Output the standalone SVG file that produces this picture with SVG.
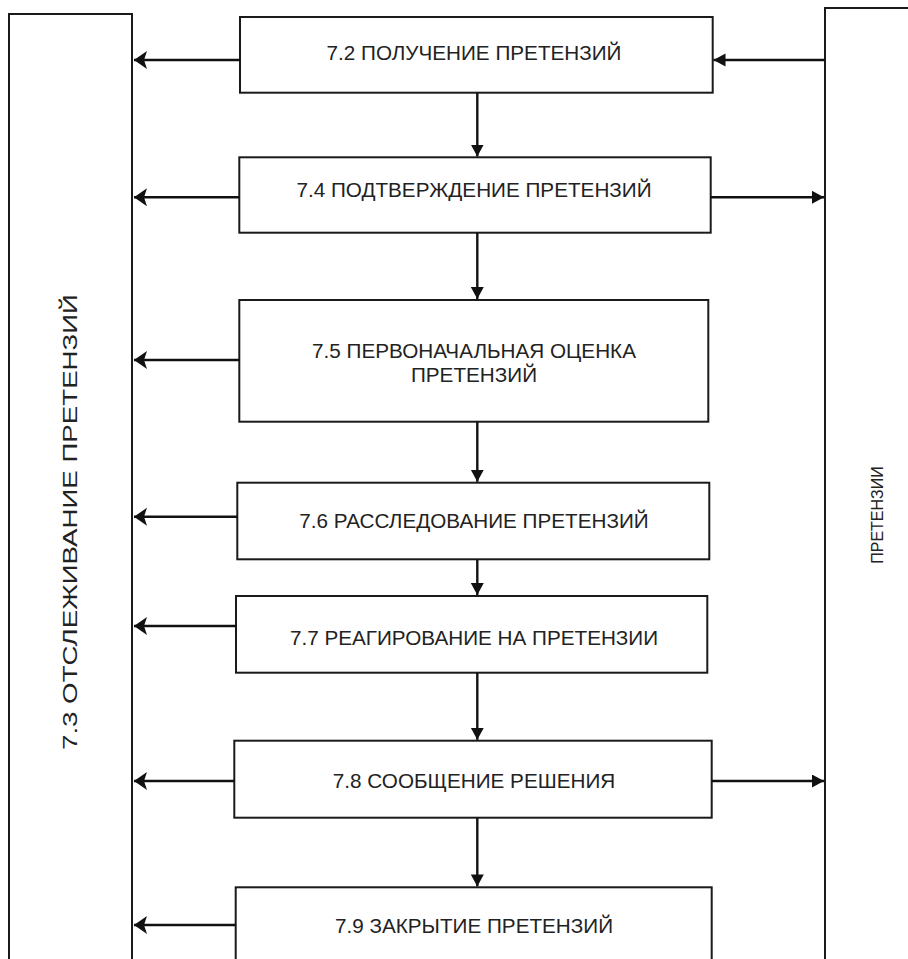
<svg xmlns="http://www.w3.org/2000/svg" width="908" height="959" viewBox="0 0 908 959">
<style>
.box{fill:#fff;stroke:#1a1a1a;stroke-width:2}
.lbl{font-family:"Liberation Sans",Arial,sans-serif;font-size:20.7px;fill:#222;text-anchor:middle}
.side{font-family:"Liberation Sans",Arial,sans-serif;font-size:21px;fill:#222;text-anchor:middle}
.con{stroke:#111;stroke-width:2.4;fill:none;marker-end:url(#ah)}
.conL{stroke:#111;stroke-width:2.4;fill:none;marker-end:url(#ahL)}
</style>
<defs>
<marker id="ah" markerUnits="userSpaceOnUse" markerWidth="14" markerHeight="14" refX="12" refY="6.5" orient="auto">
<path d="M0,0 L12,6.5 L0,13 z" fill="#111"/>
</marker>
<marker id="ahL" markerUnits="userSpaceOnUse" markerWidth="16" markerHeight="20" refX="13" refY="9" orient="auto">
<path d="M0,0 L13,9 L0,18 L3,9 z" fill="#111"/>
</marker>
</defs>
<rect width="908" height="959" fill="#fff"/>
<g id="tracking">
<rect class="box" x="9" y="14" width="123" height="960"/>
<text class="side" transform="translate(77,522) rotate(-90)" textLength="456" lengthAdjust="spacingAndGlyphs">7.3 ОТСЛЕЖИВАНИЕ ПРЕТЕНЗИЙ</text>
</g>
<g id="claims">
<rect class="box" x="825" y="8" width="100" height="970"/>
<text class="side" style="font-size:16px" transform="translate(883,515) rotate(-90)">ПРЕТЕНЗИИ</text>
</g>
<g id="n72">
<rect class="box" x="240" y="17" width="472.7" height="75.7"/>
<text class="lbl" x="474" y="60">7.2 ПОЛУЧЕНИЕ ПРЕТЕНЗИЙ</text>
</g>
<g id="n74">
<rect class="box" x="239.3" y="157.3" width="471.4" height="75.4"/>
<text class="lbl" x="474" y="196.7">7.4 ПОДТВЕРЖДЕНИЕ ПРЕТЕНЗИЙ</text>
</g>
<g id="n75">
<rect class="box" x="239.3" y="300" width="469" height="121.7"/>
<text class="lbl" x="474" y="358.3">7.5 ПЕРВОНАЧАЛЬНАЯ ОЦЕНКА</text>
<text class="lbl" x="474" y="381.7">ПРЕТЕНЗИЙ</text>
</g>
<g id="n76">
<rect class="box" x="237.3" y="482.7" width="472" height="76.6"/>
<text class="lbl" x="474" y="528.3">7.6 РАССЛЕДОВАНИЕ ПРЕТЕНЗИЙ</text>
</g>
<g id="n77">
<rect class="box" x="236" y="596" width="471.3" height="76.7"/>
<text class="lbl" x="474" y="645">7.7 РЕАГИРОВАНИЕ НА ПРЕТЕНЗИИ</text>
</g>
<g id="n78">
<rect class="box" x="234.3" y="740.7" width="477.4" height="77"/>
<text class="lbl" x="474" y="788.3">7.8 СООБЩЕНИЕ РЕШЕНИЯ</text>
</g>
<g id="n79">
<rect class="box" x="235.7" y="887.3" width="476" height="90"/>
<text class="lbl" x="474" y="933.3">7.9 ЗАКРЫТИЕ ПРЕТЕНЗИЙ</text>
</g>
<g id="connectors">
<line class="conL" x1="240" y1="60" x2="134" y2="60"/>
<line class="con" x1="825" y1="60" x2="713.5" y2="60"/>
<line class="conL" x1="239.3" y1="197.3" x2="134" y2="197.3"/>
<line class="con" x1="710.7" y1="197.3" x2="824" y2="197.3"/>
<line class="conL" x1="239.3" y1="360" x2="134" y2="360"/>
<line class="conL" x1="237.3" y1="516.7" x2="134" y2="516.7"/>
<line class="conL" x1="236" y1="626" x2="134" y2="626"/>
<line class="conL" x1="234.3" y1="781" x2="134" y2="781"/>
<line class="con" x1="711.7" y1="781" x2="824" y2="781"/>
<line class="conL" x1="235.7" y1="925" x2="134" y2="925"/>
<line class="con" x1="477.3" y1="92.7" x2="477.3" y2="156.5"/>
<line class="con" x1="477.3" y1="232.7" x2="477.3" y2="299"/>
<line class="con" x1="477.3" y1="421.7" x2="477.3" y2="481.8"/>
<line class="con" x1="477.3" y1="559.3" x2="477.3" y2="595"/>
<line class="con" x1="477.3" y1="672.7" x2="477.3" y2="739.8"/>
<line class="con" x1="477.3" y1="817.7" x2="477.3" y2="886.4"/>
</g>
</svg>
